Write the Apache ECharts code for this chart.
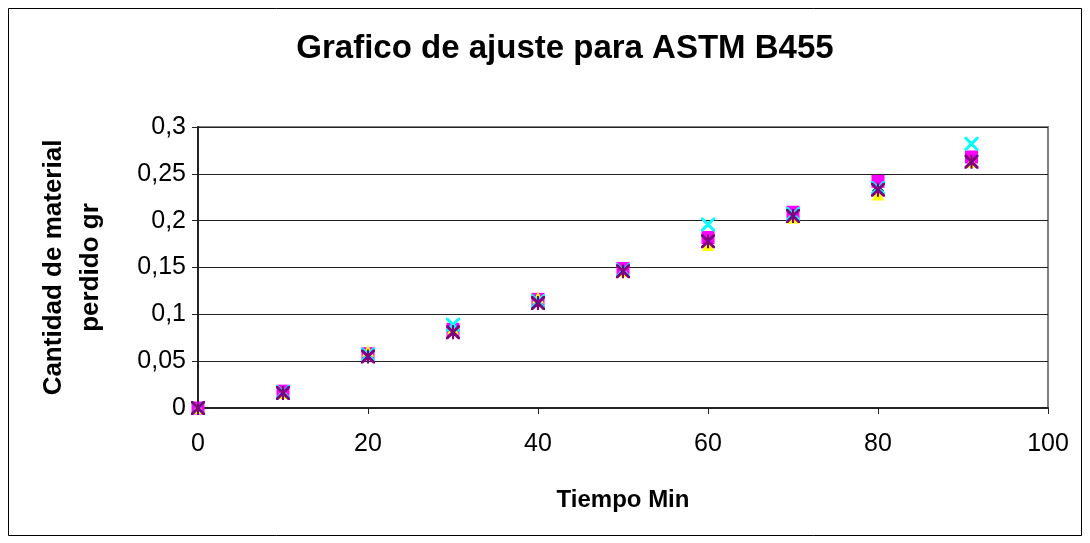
<!DOCTYPE html>
<html>
<head>
<meta charset="utf-8">
<script src="https://cdn.jsdelivr.net/npm/echarts@6/dist/echarts.min.js"></script>
<style>html,body{margin:0;padding:0;background:#fff}#c{width:1090px;height:543px}</style>
</head>
<body>
<div id="c"></div>
<script>
var xValues = [0, 10, 20, 30, 40, 50, 60, 70, 80, 91];
var serie1 = [0, 0.017, 0.056, 0.082, 0.113, 0.147, 0.178, 0.206, 0.232, 0.265];
var serie2 = [0, 0.018, 0.058, 0.084, 0.116, 0.149, 0.182, 0.209, 0.242, 0.268];
var serie3 = [0, 0.016, 0.061, 0.085, 0.118, 0.146, 0.174, 0.203, 0.228, 0.263];
var serie4 = [0, 0.017, 0.057, 0.089, 0.114, 0.147, 0.196, 0.207, 0.235, 0.282];
var serie5 = [0, 0.016, 0.055, 0.081, 0.112, 0.146, 0.178, 0.205, 0.233, 0.263];

function pts(ys){ return xValues.map(function(x,i){ return [x, ys[i]]; }); }
var xPath = 'path://M0,0 L3,0 L20,17 L20,20 L17,20 L0,3 Z M20,0 L20,3 L3,20 L0,20 L0,17 L17,0 Z';
var starPath = 'path://M0,0 L3,0 L20,17 L20,20 L17,20 L0,3 Z M20,0 L20,3 L3,20 L0,20 L0,17 L17,0 Z M8.5,0 L11.5,0 L11.5,20 L8.5,20 Z';

var chart = echarts.init(document.getElementById('c'), null, {renderer: 'canvas'});
var font = 'Liberation Sans, Arial, sans-serif';
chart.setOption({
  animation: false,
  backgroundColor: '#fff',
  title: {
    text: 'Grafico de ajuste para ASTM B455',
    left: 560, top: 27, textAlign: 'center',
    textStyle: {fontFamily: font, fontSize: 33, fontWeight: 'bold', color: '#000'}
  },
  graphic: [{
    type: 'rect', shape: {x: 8.5, y: 8.5, width: 1073, height: 527},
    style: {fill: 'none', stroke: '#000', lineWidth: 1}, z: -1
  }],
  grid: {left: 198, right: 42, top: 127, bottom: 135, show: true, borderColor: '#808080', borderWidth: 2, backgroundColor: 'transparent'},
  xAxis: {
    type: 'value', min: 0, max: 100, interval: 20,
    name: 'Tiempo Min', nameLocation: 'middle', nameGap: 80,
    nameTextStyle: {fontFamily: font, fontSize: 24, fontWeight: 'bold', color: '#000'},
    axisLine: {show: true, onZero: false, lineStyle: {color: '#222', width: 2}},
    axisTick: {show: true, inside: false, length: 6, lineStyle: {color: '#222'}},
    axisLabel: {fontFamily: font, fontSize: 25, color: '#000', margin: 24},
    splitLine: {show: false}
  },
  yAxis: {
    type: 'value', min: 0, max: 0.3, interval: 0.05,
    name: 'Cantidad de material\nperdido gr', nameLocation: 'middle', nameGap: 89,
    nameTextStyle: {fontFamily: font, fontSize: 26, fontWeight: 'bold', color: '#000', lineHeight: 37},
    axisLine: {show: true, lineStyle: {color: '#222', width: 2}},
    axisTick: {show: true, inside: false, length: 6, lineStyle: {color: '#222'}},
    axisLabel: {fontFamily: font, fontSize: 25, color: '#000', margin: 12,
      formatter: function(v){ return String(+v.toFixed(2)).replace('.', ','); }},
    splitLine: {show: true, lineStyle: {color: '#222', width: 1}}
  },
  series: [
    {type: 'scatter', name: 'S1', data: pts(serie1), symbol: 'diamond', symbolSize: 12, itemStyle: {color: '#000080', opacity: 1}},
    {type: 'scatter', name: 'S2', data: pts(serie2), symbol: 'rect', symbolSize: 13, itemStyle: {color: '#FF00FF', opacity: 1}},
    {type: 'scatter', name: 'S3', data: pts(serie3), symbol: 'triangle', symbolSize: 12, itemStyle: {color: '#FFFF00', opacity: 1}},
    {type: 'scatter', name: 'S4', data: pts(serie4), symbol: xPath, symbolSize: 14, itemStyle: {color: '#00FFFF', opacity: 1}},
    {type: 'scatter', name: 'S5', data: pts(serie5), symbol: starPath, symbolSize: 14, itemStyle: {color: '#800080', opacity: 1}}
  ]
});
</script>
</body>
</html>
